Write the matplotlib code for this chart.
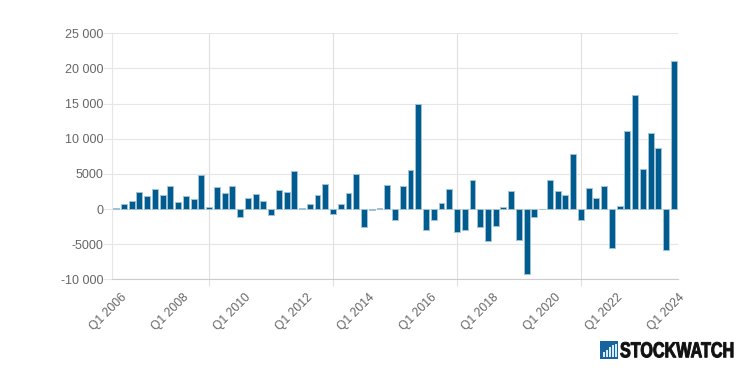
import matplotlib
matplotlib.use('Agg')
import matplotlib.pyplot as plt
from matplotlib.patches import Rectangle
from matplotlib.patheffects import AbstractPathEffect
from matplotlib.transforms import Affine2D, ScaledTranslation

plt.rcParams['font.family'] = ['Liberation Sans', 'DejaVu Sans']

# quarterly values, Q1 2006 -> Q1 2024
quarters = [f'Q{q} {y}' for y in range(2006, 2024) for q in (1, 2, 3, 4)] + ['Q1 2024']
values = [100, 670, 1090, 2470, 1800, 2800, 1950, 3280, 1000, 1850, 1380, 4800,
          240, 3180, 2230, 3230, -1140, 1570, 2090, 1090, -855, 2660, 2375, 5370,
          190, 760, 1950, 3560, -665, 670, 2330, 5030, -2500, -190, 190, 3470,
          -1570, 3230, 5510, 15010, -2990, -1520, 900, 2900, -3230, -2945, 4180, -2565,
          -4510, -2420, 240, 2520, -4370, -9200, -1140, 50, 4180, 2610, 2040, 7880,
          -1570, 2945, 1615, 3325, -5560, 430, 11160, 16240, 5750, 10830, 8740, -5890,
          20995]
yticks = [-10000, -5000, 0, 5000, 10000, 15000, 20000, 25000]
ylabels = ['-10 000', '-5000', '0', '5000', '10 000', '15 000', '20 000', '25 000']
label_idx = list(range(0, 73, 8))
grid_idx = [12, 28, 44, 60]

W, H = 749, 380


class SquashX(AbstractPathEffect):
    # no narrow font installed, so squeeze the glyphs towards x0 (pixels) and thicken them
    def __init__(self, x0, factor, stroke):
        super().__init__()
        self.x0 = x0
        self.factor = factor
        self.stroke = stroke

    def draw_path(self, renderer, gc, tpath, affine, rgbFace=None):
        squash = Affine2D().translate(-self.x0, 0).scale(self.factor, 1).translate(self.x0, 0)
        gc0 = renderer.new_gc()
        gc0.copy_properties(gc)
        gc0.set_linewidth(self.stroke)
        gc0.set_foreground(rgbFace)
        renderer.draw_path(gc0, tpath, affine + squash, rgbFace)
        gc0.restore()


fig = plt.figure(figsize=(W / 100, H / 100), dpi=100)
ax = fig.add_axes([112.3 / W, 1 - 279.3 / H, (677.7 - 112.3) / W, 246 / H])

ax.bar(range(len(values)), values, width=0.76, color='#005b8f',
       edgecolor='#9fc2d6', linewidth=0.7, zorder=3)
ax.set_xlim(-0.5, 72.5)
ax.set_ylim(-10000, 25000)

ax.set_yticks(yticks)
ax.set_yticklabels(ylabels, fontsize=9, color='#666666')
ax.tick_params(axis='y', length=6.5, width=0.8, color='#e6e6e6', pad=0)
ax.grid(axis='y', color='#e6e6e6', linewidth=0.8, zorder=0)

# vertical grid, these carry no labels
ax.set_xticks(grid_idx)
ax.set_xticklabels([])
ax.tick_params(axis='x', length=5, width=0.8, color='#e0e0e0')
ax.grid(axis='x', color='#e0e0e0', linewidth=0.8, zorder=0)

offset = ScaledTranslation(8.5 / 100, -16.5 / 100, fig.dpi_scale_trans)
for i in label_idx:
    ax.text(i, 0, quarters[i], transform=ax.get_xaxis_transform() + offset,
            rotation=45, rotation_mode='anchor', ha='right', va='center',
            fontsize=8.7, color='#666666')

for s in ('top', 'right'):
    ax.spines[s].set_visible(False)
ax.spines['left'].set_color('#e6e6e6')
ax.spines['left'].set_linewidth(0.8)
ax.spines['bottom'].set_color('#cccccc')
ax.spines['bottom'].set_linewidth(0.8)


# logo
def px_rect(x, y, w, h, color):
    fig.add_artist(Rectangle((x / W, 1 - (y + h) / H), w / W, h / H, color=color,
                             transform=fig.transFigure, lw=0))


px_rect(600, 341, 18, 18, '#17649f')
for bx, bt in [(602.5, 352), (605.5, 350), (608.5, 347), (611.5, 345), (614.5, 344)]:
    px_rect(bx, bt, 2.2, 356.5 - bt, '#d8ecf8')

logo = fig.text(734 / W, 1 - 357.3 / H, 'STOCKWATCH', fontsize=15.6, fontweight='bold',
                color='#111111', ha='right', va='baseline')
logo.set_path_effects([SquashX(734, 0.745, 0.7)])

fig.savefig('out.png', dpi=100)
